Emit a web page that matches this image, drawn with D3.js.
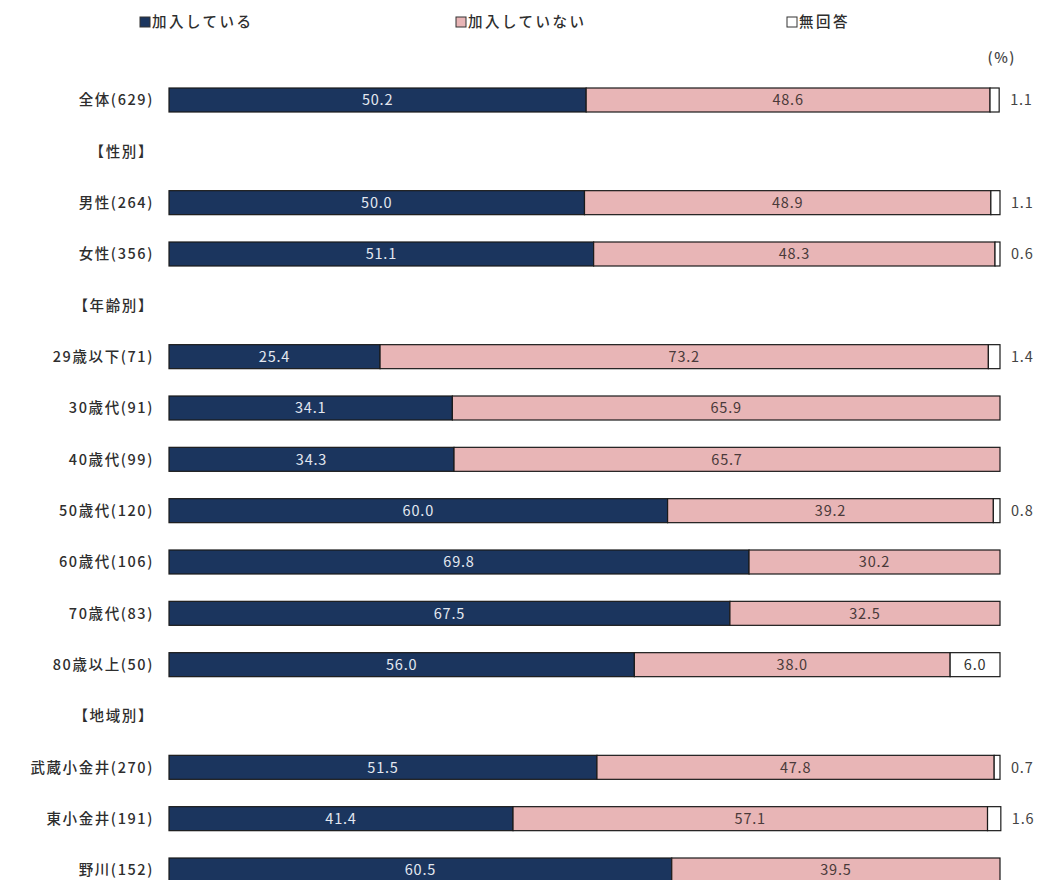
<!DOCTYPE html>
<html lang="ja">
<head>
<meta charset="utf-8">
<script src="https://cdn.jsdelivr.net/npm/d3@7"></script>
<style>
  html, body { margin: 0; padding: 0; background: #ffffff; }
  svg { display: block; }
  text { font-family: "Noto Sans CJK JP", "Noto Sans", sans-serif; }
</style>
</head>
<body>
<svg id="chart" width="1039" height="880"></svg>
<script>
// Row labels in display order; section headers carry no values
const rowLabels = [
  "全体(629)",
  "【性別】",
  "男性(264)", "女性(356)",
  "【年齢別】",
  "29歳以下(71)", "30歳代(91)", "40歳代(99)", "50歳代(120)",
  "60歳代(106)", "70歳代(83)", "80歳以上(50)",
  "【地域別】",
  "武蔵小金井(270)", "東小金井(191)", "野川(152)"
];
const headerRows = ["【性別】", "【年齢別】", "【地域別】"];

// Series values (%) for the data rows, in the same order as rowLabels minus headers
const joined    = [50.2, 50.0, 51.1, 25.4, 34.1, 34.3, 60.0, 69.8, 67.5, 56.0, 51.5, 41.4, 60.5];
const notJoined = [48.6, 48.9, 48.3, 73.2, 65.9, 65.7, 39.2, 30.2, 32.5, 38.0, 47.8, 57.1, 39.5];
const noAnswer  = [1.1, 1.1, 0.6, 1.4, 0, 0, 0.8, 0, 0, 6.0, 0.7, 1.6, 0];

const seriesNames = ["加入している", "加入していない", "無回答"];
const seriesColors = ["#1b355e", "#e8b5b6", "#ffffff"];
const valueTextColors = ["#e3e8f0", "#4a3a3a", "#333333"];

const svg = d3.select("#chart");

// Build the stacked table from the arrays
const dataRows = rowLabels.filter(l => !headerRows.includes(l));
const table = dataRows.map((label, i) => ({
  label,
  s0: joined[i], s1: notJoined[i], s2: noAnswer[i]
}));
const stacked = d3.stack().keys(["s0", "s1", "s2"])(table);

const x = d3.scaleLinear().domain([0, 100]).range([169, 1000]);
const y = d3.scalePoint().domain(rowLabels).range([100, 870]);
const barH = 24;
const fs = 14.5;
const ls = "1.6px";

// Category labels (data rows and section headers)
svg.append("g")
  .selectAll("text")
  .data(rowLabels)
  .join("text")
  .attr("x", 154)
  .attr("y", d => y(d))
  .attr("dy", "0.36em")
  .attr("text-anchor", "end")
  .attr("font-size", fs)
  .attr("font-weight", 500)
  .attr("letter-spacing", ls)
  .attr("fill", "#2e2e2e")
  .text(d => d);

// Stacked bar segments
const layers = svg.append("g")
  .selectAll("g")
  .data(stacked)
  .join("g")
  .attr("fill", (d, i) => seriesColors[i]);

layers.selectAll("rect")
  .data(d => d.filter(p => p[1] - p[0] > 0))
  .join("rect")
  .attr("x", p => x(p[0]))
  .attr("y", p => y(p.data.label) - barH / 2)
  .attr("width", p => x(p[1]) - x(p[0]))
  .attr("height", barH)
  .attr("stroke", "#1a1a1a")
  .attr("stroke-width", 1.2);

// Value labels: centred inside segments; narrow no-answer segments get the label outside
const isOutside = (li, p) => li === 2 && x(p[1]) - x(p[0]) < 30;
layers.each(function (layer, li) {
  d3.select(this).selectAll("text")
    .data(layer.filter(p => p[1] - p[0] > 0))
    .join("text")
    .attr("x", p => isOutside(li, p) ? x(p[1]) + 11 : (x(p[0]) + x(p[1])) / 2)
    .attr("y", p => y(p.data.label))
    .attr("dy", "0.36em")
    .attr("text-anchor", p => isOutside(li, p) ? "start" : "middle")
    .attr("font-size", fs)
    .attr("letter-spacing", "0.8px")
    .attr("fill", p => isOutside(li, p) ? "#444" : valueTextColors[li])
    .text(p => (p[1] - p[0]).toFixed(1));
});

// Legend
const legendX = [140, 456, 787];
const legend = svg.append("g")
  .selectAll("g")
  .data(seriesNames)
  .join("g")
  .attr("transform", (d, i) => `translate(${legendX[i]},22)`);
legend.append("rect")
  .attr("x", 0).attr("y", -5)
  .attr("width", 10).attr("height", 10)
  .attr("fill", (d, i) => seriesColors[i])
  .attr("stroke", "#333")
  .attr("stroke-width", 1);
legend.append("text")
  .attr("x", 12).attr("y", 0).attr("dy", "0.36em")
  .attr("font-size", fs)
  .attr("font-weight", 500)
  .attr("letter-spacing", "2.5px")
  .attr("fill", "#2e2e2e")
  .text(d => d);

// Unit note
svg.append("text")
  .attr("x", 1016).attr("y", 58).attr("dy", "0.36em")
  .attr("text-anchor", "end")
  .attr("font-size", fs)
  .attr("font-weight", 500)
  .attr("letter-spacing", "1.5px")
  .attr("fill", "#444")
  .text("(%)");
</script>
</body>
</html>
